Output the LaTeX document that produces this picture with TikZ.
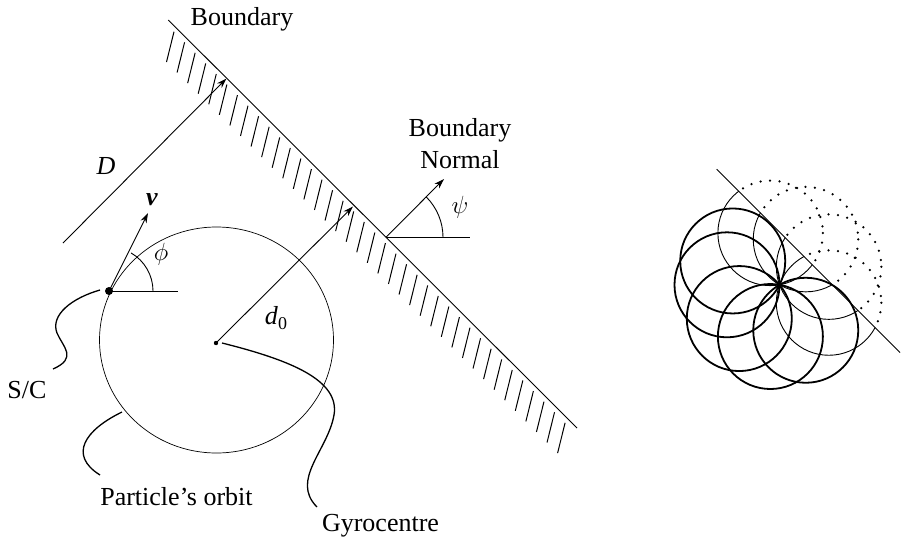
\documentclass[tikz,border=0pt]{standalone}
\usepackage{fontspec}
\setmainfont{Liberation Serif}
\usetikzlibrary{arrows.meta,calc}
\begin{document}
\begin{tikzpicture}[x=1pt,y=-1pt,
  every node/.style={inner sep=0pt,font=\fontsize{26pt}{32pt}\selectfont},
  ln/.style={line width=0.9pt},
  arr/.style={line width=0.9pt,-{Stealth[length=10pt,width=6.5pt]}},
  conn/.style={line width=1.3pt},
  hatch/.style={line width=1pt},
  thickc/.style={line width=1.8pt},
  thinc/.style={line width=0.9pt},
  dotc/.style={line width=2.5pt,line cap=round,dash pattern=on 0pt off 9.5pt}]
\useasboundingbox (0,0) rectangle (901,538);
% ---------- left diagram ----------
\coordinate (B1) at (168.3,20);
\coordinate (B2) at (577,428);
\draw[ln] (B1) -- (B2);
\foreach \i in {0,...,37}
  \draw[hatch] ({174+\i*10.57},{31.7+\i*10.57}) -- ++(-7.5,30.3);
% D
\coordinate (Ds) at (63,243);
\coordinate (Dt) at (226.5,78.5);
\draw[arr] (Ds) -- (Dt);
\node (lD) at (106,166) {\textit{D}};
% orbit
\coordinate (G) at (216,343);
\draw[line width=0.7pt] (216.5,340) ellipse (117 and 113);
\fill (G) circle (2.2);
% d0
\coordinate (Nt) at (353,206.5);
\draw[arr] (G) -- (Nt);
\node (ld) at (276,318) {\textit{d}\raisebox{-5pt}{\fontsize{18pt}{18pt}\selectfont 0}};
% S/C
\coordinate (S) at (109,291);
\coordinate (Vt) at (148,213);
\coordinate (Sh) at (178,291);
\draw[arr] (S) -- (Vt);
\draw[ln] (S) -- (Sh);
\draw[ln] ([shift={(44,0)}]S) arc[start angle=0,end angle=-60,radius=44];
\fill (S) circle (4);
\node (lv) at (152,200) {\textbf{\textit{v}}};
\node (lphi) at (161,254) {$\phi$};
% Boundary normal
\coordinate (O) at (386,237.3);
\coordinate (Ot) at (444,179);
\coordinate (Oh) at (470,237.3);
\draw[arr] (O) -- (Ot);
\draw[ln] (O) -- (Oh);
\draw[ln] ([shift={(57,0)}]O) arc[start angle=0,end angle=-45,radius=57];
\node (lpsi) at (460,207) {$\psi$};
% labels
\node[anchor=base] (lB) at (242,25) {Boundary};
\node[anchor=base] (lBN1) at (460,136) {Boundary};
\node[anchor=base] (lBN2) at (460,168) {Normal};
\node[anchor=base] (lSC) at (27,398) {S/C};
\node[anchor=base] (lPO) at (176.5,505) {Particle’s orbit};
\node[anchor=base] (lGC) at (380.5,531.5) {Gyrocentre};
% connectors
\coordinate (c1) at (100,290);
\coordinate (c1e) at (53,369);
\draw[conn] (c1) .. controls (72,298) and (50,315) .. (57,333) .. controls (63,347) and (78,358) .. (c1e);
\coordinate (c2) at (122,412);
\coordinate (c2e) at (100,475);
\draw[conn] (c2) .. controls (85,430) and (68,455) .. (c2e);
\coordinate (c3) at (222,343);
\coordinate (c3e) at (317,507);
\draw[conn] (c3) .. controls (290,360) and (340,380) .. (334,415) .. controls (328,450) and (290,480) .. (c3e);
% ---------- right diagram ----------
\def\R{52.5}
\coordinate (P) at (779.5,284.8);
\coordinate (L1) at (716.7,169.2);
\coordinate (L2) at (900,352.5);
\foreach \a in {153,180,220,260,300}
  \draw[thickc] ($(P)+({\R*cos(\a)},{-\R*sin(\a)})$) circle (\R);
\begin{scope}
  \clip (650,102.5) -- (950,402.5) -- (950,460) -- (650,460) -- cycle;
  \foreach \a in {340,20,60,100}
    \draw[thinc] ($(P)+({\R*cos(\a)},{-\R*sin(\a)})$) circle (\R);
\end{scope}
\begin{scope}
  \clip (650,102.5) -- (950,402.5) -- (950,100) -- (650,100) -- cycle;
  \foreach \a in {340,20,60,100}
    \draw[dotc] ($(P)+({\R*cos(\a)},{-\R*sin(\a)})$) circle (\R);
\end{scope}
\draw[ln] (L1) -- (L2);
\end{tikzpicture}
\end{document}
